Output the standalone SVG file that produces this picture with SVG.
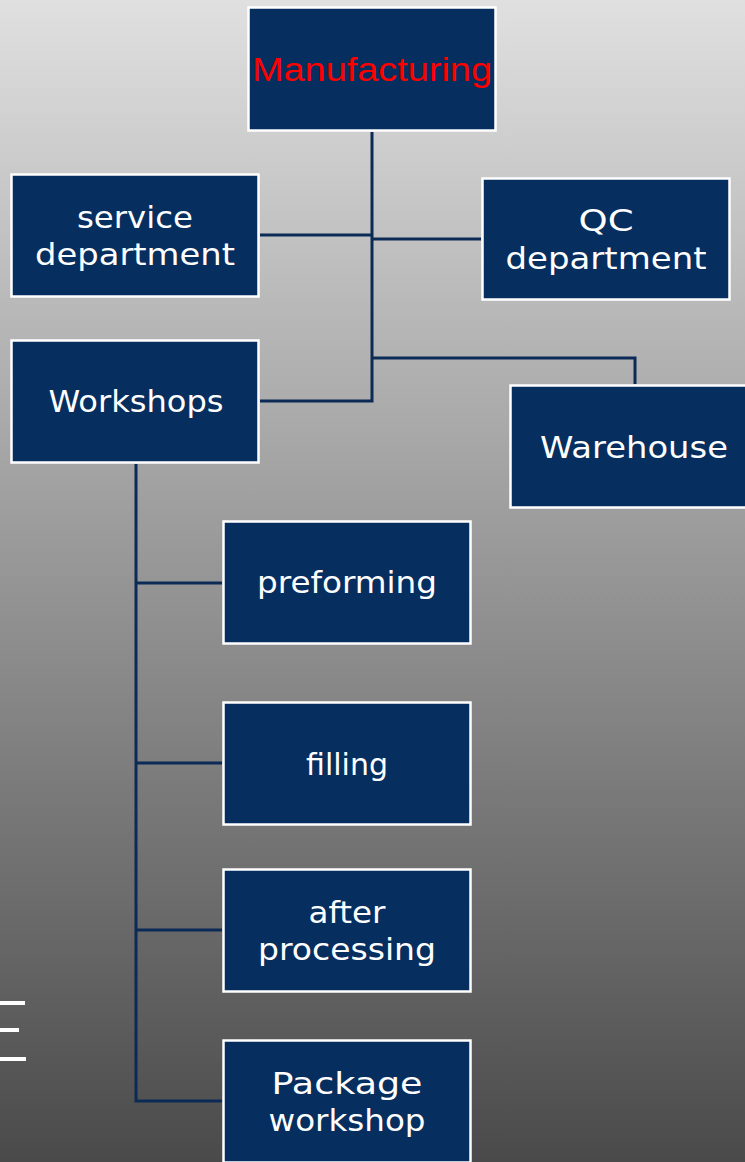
<svg xmlns="http://www.w3.org/2000/svg" width="745" height="1162" viewBox="0 0 745 1162">
  <defs>
    <linearGradient id="bg" x1="0" y1="0" x2="0" y2="1">
      <stop offset="0" stop-color="#e0e0e0"/>
      <stop offset="1" stop-color="#4a4a4a"/>
    </linearGradient>
  </defs>
  <style>
    .box { fill: #062e5f; stroke: #ffffff; stroke-width: 2.5; }
    .lbl { fill: #ffffff; font-family: "DejaVu Sans", "Liberation Sans", sans-serif; font-size: 31px; text-anchor: middle; }
    .title { fill: #ff0000; font-family: "Liberation Sans", Arial, sans-serif; font-size: 34px; text-anchor: middle; }
    .conn { fill: none; stroke: #0b2a55; stroke-width: 3; }
    .dash { fill: #ffffff; }
  </style>
  <rect x="0" y="0" width="745" height="1162" fill="url(#bg)"/>

  <g id="connectors">
    <path class="conn" d="M372 132 V401 H260"/>
    <path class="conn" d="M260 235 H372"/>
    <path class="conn" d="M372 239 H481"/>
    <path class="conn" d="M372 358 H635 V384"/>
    <path class="conn" d="M136 464 V1101 H222"/>
    <path class="conn" d="M136 583 H222"/>
    <path class="conn" d="M136 763 H222"/>
    <path class="conn" d="M136 930 H222"/>
  </g>

  <g id="manufacturing">
    <rect class="box" x="248.5" y="7.5" width="247" height="123"/>
    <text class="title" x="372" y="81" textLength="240" lengthAdjust="spacingAndGlyphs">Manufacturing</text>
  </g>
  <g id="service-department">
    <rect class="box" x="11.5" y="174.5" width="247" height="122"/>
    <text class="lbl" x="135" y="228" textLength="116" lengthAdjust="spacingAndGlyphs">service</text>
    <text class="lbl" x="135" y="265" textLength="200" lengthAdjust="spacingAndGlyphs">department</text>
  </g>
  <g id="qc-department">
    <rect class="box" x="482.5" y="178.5" width="247" height="121"/>
    <text class="lbl" x="606" y="231" textLength="55" lengthAdjust="spacingAndGlyphs">QC</text>
    <text class="lbl" x="606" y="268.5" textLength="201" lengthAdjust="spacingAndGlyphs">department</text>
  </g>
  <g id="workshops">
    <rect class="box" x="11.5" y="340.5" width="247" height="122"/>
    <text class="lbl" x="136" y="412" textLength="175" lengthAdjust="spacingAndGlyphs">Workshops</text>
  </g>
  <g id="warehouse">
    <rect class="box" x="510.5" y="385.5" width="247" height="122"/>
    <text class="lbl" x="634" y="458" textLength="188" lengthAdjust="spacingAndGlyphs">Warehouse</text>
  </g>
  <g id="preforming">
    <rect class="box" x="223.5" y="521.5" width="247" height="122"/>
    <text class="lbl" x="347" y="593" textLength="180" lengthAdjust="spacingAndGlyphs">preforming</text>
  </g>
  <g id="filling">
    <rect class="box" x="223.5" y="702.5" width="247" height="122"/>
    <text class="lbl" x="347" y="775" textLength="82" lengthAdjust="spacingAndGlyphs">filling</text>
  </g>
  <g id="after-processing">
    <rect class="box" x="223.5" y="869.5" width="247" height="122"/>
    <text class="lbl" x="347" y="923" textLength="77" lengthAdjust="spacingAndGlyphs">after</text>
    <text class="lbl" x="347" y="960" textLength="178" lengthAdjust="spacingAndGlyphs">processing</text>
  </g>
  <g id="package-workshop">
    <rect class="box" x="223.5" y="1040.5" width="247" height="122"/>
    <text class="lbl" x="347" y="1094" textLength="151" lengthAdjust="spacingAndGlyphs">Package</text>
    <text class="lbl" x="347" y="1131" textLength="157" lengthAdjust="spacingAndGlyphs">workshop</text>
  </g>

  <g id="side-marks">
    <rect class="dash" x="0" y="1001" width="25" height="4"/>
    <rect class="dash" x="0" y="1028" width="19" height="4"/>
    <rect class="dash" x="0" y="1057" width="26" height="4"/>
  </g>
</svg>
